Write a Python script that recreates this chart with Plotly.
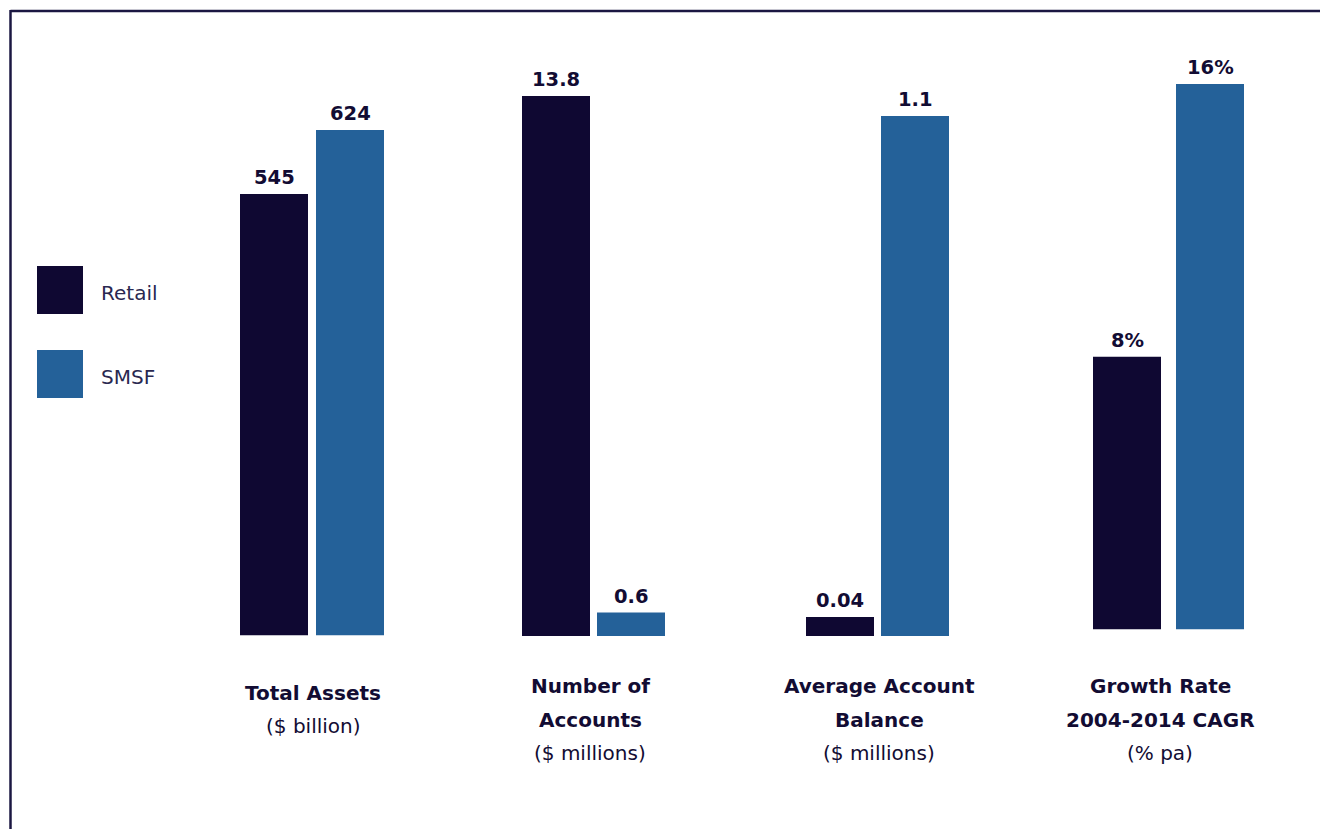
import plotly.graph_objects as go

# ---- data ----
series_names = ["Retail", "SMSF"]
retail_values = [545, 13.8, 0.04, 8]
smsf_values = [624, 0.6, 1.1, 16]
value_labels_retail = ["545", "13.8", "0.04", "8%"]
value_labels_smsf = ["624", "0.6", "1.1", "16%"]
group_titles = [["Total Assets"], ["Number of", "Accounts"], ["Average Account", "Balance"],
                ["Growth Rate", "2004-2014 CAGR"]]
group_units = ["($ billion)", "($ millions)", "($ millions)", "(% pa)"]

# ---- style ----
W, H = 1320, 829
C_RETAIL = "#0f0832"
C_SMSF = "#246199"
C_TEXT = "#120c33"
FONT = "DejaVu Sans"

# pixel layout per group: (left px, right px, baseline px, top px of tallest bar, bar width units)
group_px = [
    (236, 388, 635.5, 130, 68 / 76),
    (518.5, 668.5, 636, 96, 68 / 75),
    (802.5, 952.5, 636, 116, 68 / 75),
    (1085.5, 1251.5, 629.5, 84, 68 / 83),
]
title_x_px = [313, 590, 879, 1160]

fig = go.Figure()
annotations = []
layout = {}
for i in range(4):
    ax = "" if i == 0 else str(i + 1)
    l, r, base, top, bw = group_px[i]
    vmax = max(retail_values[i], smsf_values[i])
    layout["xaxis" + ax] = dict(domain=[l / W, r / W], range=[-0.5, 1.5], visible=False,
                                anchor="y" + ax, fixedrange=True)
    layout["yaxis" + ax] = dict(domain=[1 - base / H, 1 - top / H], range=[0, vmax], visible=False,
                                anchor="x" + ax, fixedrange=True)
    fig.add_trace(go.Bar(x=[0], y=[retail_values[i]], width=[bw], marker_color=C_RETAIL,
                         marker_line_width=0, xaxis="x" + ax, yaxis="y" + ax, showlegend=False,
                         name=series_names[0]))
    fig.add_trace(go.Bar(x=[1], y=[smsf_values[i]], width=[bw], marker_color=C_SMSF,
                         marker_line_width=0, xaxis="x" + ax, yaxis="y" + ax, showlegend=False,
                         name=series_names[1]))
    for xv, yv, txt in [(0, retail_values[i], value_labels_retail[i]), (1, smsf_values[i], value_labels_smsf[i])]:
        annotations.append(dict(x=xv, y=yv, xref="x" + ax, yref="y" + ax, text="<b>%s</b>" % txt,
                                showarrow=False, yanchor="bottom", yshift=3,
                                font=dict(family=FONT, size=19.5, color=C_TEXT)))
    # category labels
    lines = [("<b>%s</b>" % t) for t in group_titles[i]] + [group_units[i]]
    ys = [693, 726] if len(lines) == 2 else [686, 720, 753]
    for txt, ypx in zip(lines, ys):
        annotations.append(dict(x=title_x_px[i] / W, y=1 - ypx / H, xref="paper", yref="paper",
                                text=txt, showarrow=False, xanchor="center", yanchor="middle",
                                font=dict(family=FONT, size=20, color=C_TEXT)))

# legend (drawn manually)
shapes = [
    dict(type="line", xref="paper", yref="paper", x0=10.5 / W, x1=1, y0=1 - 11 / H, y1=1 - 11 / H,
         line=dict(color="#1b1742", width=2.5)),
    dict(type="line", xref="paper", yref="paper", x0=10.5 / W, x1=10.5 / W, y0=0, y1=1 - 10 / H,
         line=dict(color="#1b1742", width=2.5)),
]
for name, col, (y0, y1) in zip(series_names, [C_RETAIL, C_SMSF], [(266, 314), (350, 398)]):
    shapes.append(dict(type="rect", xref="paper", yref="paper", x0=37 / W, x1=83 / W,
                       y0=1 - y1 / H, y1=1 - y0 / H, fillcolor=col, line_width=0))
    annotations.append(dict(x=99 / W, y=1 - ((y0 + y1) / 2 + 3) / H, xref="paper", yref="paper", text=name,
                            showarrow=False, xanchor="left", yanchor="middle",
                            font=dict(family=FONT, size=20, color="#2a2850")))

fig.update_layout(width=W, height=H, margin=dict(l=0, r=0, t=0, b=0), paper_bgcolor="white",
                  plot_bgcolor="rgba(0,0,0,0)", annotations=annotations, shapes=shapes,
                  barmode="overlay", **layout)
fig.write_html("out.html", config={"displayModeBar": False})
